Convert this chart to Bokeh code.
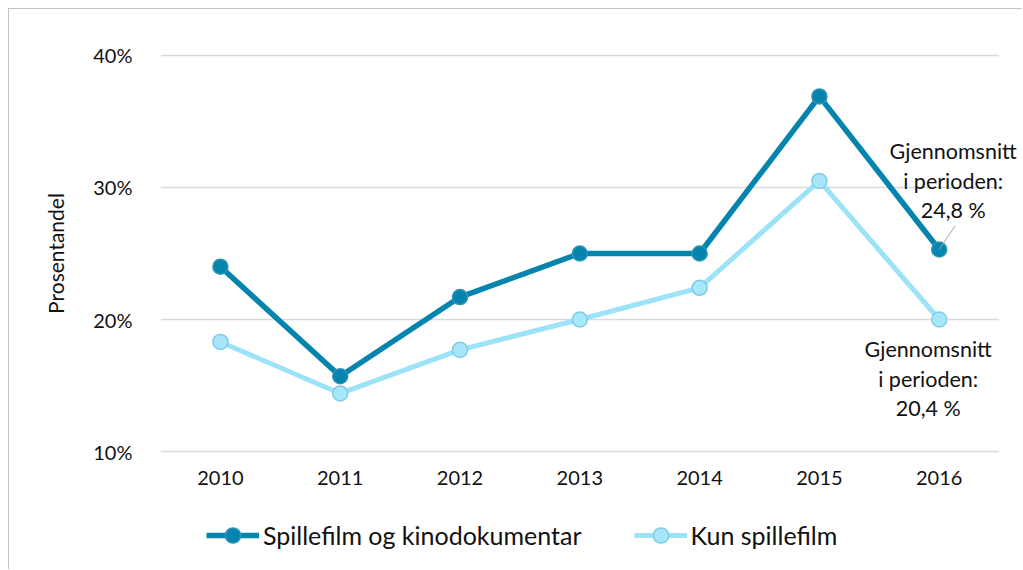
from bokeh.plotting import figure
from bokeh.layouts import column
from bokeh.models import (Range1d, ColumnDataSource, NumeralTickFormatter,
                          Legend, LegendItem, FixedTicker)
from bokeh.core.properties import value
from bokeh.embed import file_html
from bokeh.resources import INLINE

# ---- data ----
years = [2010, 2011, 2012, 2013, 2014, 2015, 2016]
spillefilm_og_kinodok = [0.240, 0.157, 0.217, 0.250, 0.250, 0.369, 0.253]
kun_spillefilm = [0.183, 0.144, 0.177, 0.200, 0.224, 0.305, 0.200]
y_ticks = [0.10, 0.20, 0.30, 0.40]
series_names = ["Spillefilm og kinodokumentar", "Kun spillefilm"]
note_dark = ["Gjennomsnitt", "i perioden:", "24,8 %"]
note_light = ["Gjennomsnitt", "i perioden:", "20,4 %"]
y_title = "Prosentandel"

FONT = "Lato"
DARK = "#0584AE"
DARK_EDGE = "#2F93B8"
LIGHT = "#9CE3FA"
LIGHT_FILL = "#A8E6FB"
LIGHT_EDGE = "#7FCCE8"
TXT = "#111111"

# layout (pixels)
W = 1013
H1, H2 = 489, 71
B_LEFT, B_RIGHT, B_TOP, B_BOTTOM = 151, 0, 39, 40
STEP = 119.8  # px per year
frame_w = W - B_LEFT - B_RIGHT
x_start = years[0] - 0.5
x_end = x_start + frame_w / STEP

p = figure(
    width=W, height=H1,
    x_range=Range1d(x_start, x_end),
    y_range=Range1d(0.0947, 0.4053),
    output_backend="svg", toolbar_location=None,
    min_border_left=B_LEFT, min_border_right=B_RIGHT,
    min_border_top=B_TOP, min_border_bottom=B_BOTTOM,
)
p.outline_line_color = None
p.background_fill_color = "white"
p.border_fill_color = "white"
p.xgrid.grid_line_color = None
p.ygrid.grid_line_color = None

p.xaxis.ticker = FixedTicker(ticks=years)
p.yaxis.ticker = FixedTicker(ticks=y_ticks)
p.yaxis.formatter = NumeralTickFormatter(format="0%")

for ax in (p.xaxis[0], p.yaxis[0]):
    ax.axis_line_color = None
    ax.major_tick_line_color = None
    ax.minor_tick_line_color = None
    ax.major_label_text_font = FONT
    ax.major_label_text_font_size = "20px"
    ax.major_label_text_color = TXT

p.yaxis.major_label_standoff = 22
p.xaxis.major_label_standoff = 6
p.yaxis.axis_label = y_title
p.yaxis.axis_label_text_font = FONT
p.yaxis.axis_label_text_font_size = "21px"
p.yaxis.axis_label_text_font_style = "normal"
p.yaxis.axis_label_text_color = TXT
p.yaxis.axis_label_standoff = 22

# horizontal gridlines spanning the year slots only
grid = ColumnDataSource(dict(x0=[years[0] - 0.5] * len(y_ticks),
                             x1=[years[-1] + 0.5] * len(y_ticks),
                             y=y_ticks))
p.segment(x0="x0", y0="y", x1="x1", y1="y", source=grid,
          line_color="#d9d9d9", line_width=1.3)

src = ColumnDataSource(dict(x=years, a=spillefilm_og_kinodok, b=kun_spillefilm))

p.line("x", "b", source=src, line_color=LIGHT, line_width=5)
p.scatter("x", "b", source=src, size=15, fill_color=LIGHT_FILL,
          line_color=LIGHT_EDGE, line_width=1.5)
p.line("x", "a", source=src, line_color=DARK, line_width=5.5)
p.scatter("x", "a", source=src, size=15, fill_color=DARK,
          line_color=DARK_EDGE, line_width=1.5)

# leader line for the dark-series note
seg = ColumnDataSource(dict(x0=[years[-1]], y0=[spillefilm_og_kinodok[-1]],
                            x1=[years[-1] + 16 / STEP],
                            y1=[spillefilm_og_kinodok[-1] + 0.018]))
p.segment(x0="x0", y0="y0", x1="x1", y1="y1",
          source=seg, line_color="#a6a6a6", line_width=1)

# notes
n1 = ColumnDataSource(dict(x=[years[-1]] * 3, y=[spillefilm_og_kinodok[-1]] * 3,
                           t=note_dark, dy=[-99, -69, -40]))
p.text("x", "y", text="t", source=n1, x_offset=14, y_offset="dy",
       text_align="center", text_baseline="middle",
       text_font=value(FONT), text_font_size="21.5px", text_color=TXT)
n2 = ColumnDataSource(dict(x=[years[-1]] * 3, y=[kun_spillefilm[-1]] * 3,
                           t=note_light, dy=[29, 59, 88]))
p.text("x", "y", text="t", source=n2, x_offset=-11, y_offset="dy",
       text_align="center", text_baseline="middle",
       text_font=value(FONT), text_font_size="21.5px", text_color=TXT)

# ---- legend strip below the chart (frame aligned with the chart's frame) ----
q = figure(
    width=W, height=H2, x_range=Range1d(0, 1), y_range=Range1d(0, 1),
    x_axis_type=None, y_axis_type=None,
    output_backend="svg", toolbar_location=None,
    min_border_left=B_LEFT, min_border_right=B_RIGHT,
    min_border_top=3, min_border_bottom=0,
)
q.outline_line_color = None
q.xgrid.grid_line_color = None
q.ygrid.grid_line_color = None
hidden = ColumnDataSource(dict(x=[float("nan")], y=[float("nan")]))
ql1 = q.line("x", "y", source=hidden, line_color=DARK, line_width=5.5)
qc1 = q.scatter("x", "y", source=hidden, fill_color=DARK, line_color=DARK_EDGE,
                line_width=1.5)
ql2 = q.line("x", "y", source=hidden, line_color=LIGHT, line_width=5)
qc2 = q.scatter("x", "y", source=hidden, fill_color=LIGHT_FILL,
                line_color=LIGHT_EDGE, line_width=1.5)

legend = Legend(
    items=[LegendItem(label=series_names[0], renderers=[ql1, qc1]),
           LegendItem(label=series_names[1], renderers=[ql2, qc2])],
    orientation="horizontal", location="left",
    glyph_width=53, glyph_height=38, label_standoff=4, spacing=52,
    padding=4, margin=46,
    label_text_font=FONT, label_text_font_size="25px", label_text_color=TXT,
    background_fill_alpha=0, border_line_color=None,
)
q.add_layout(legend, "center")

layout = column(p, q, spacing=0, styles={
    "margin-left": "8px", "margin-top": "8px",
    "border-left": "1px solid #c4c4c4", "border-top": "1px solid #c4c4c4",
})

open("out.html", "w").write(file_html(layout, INLINE))
